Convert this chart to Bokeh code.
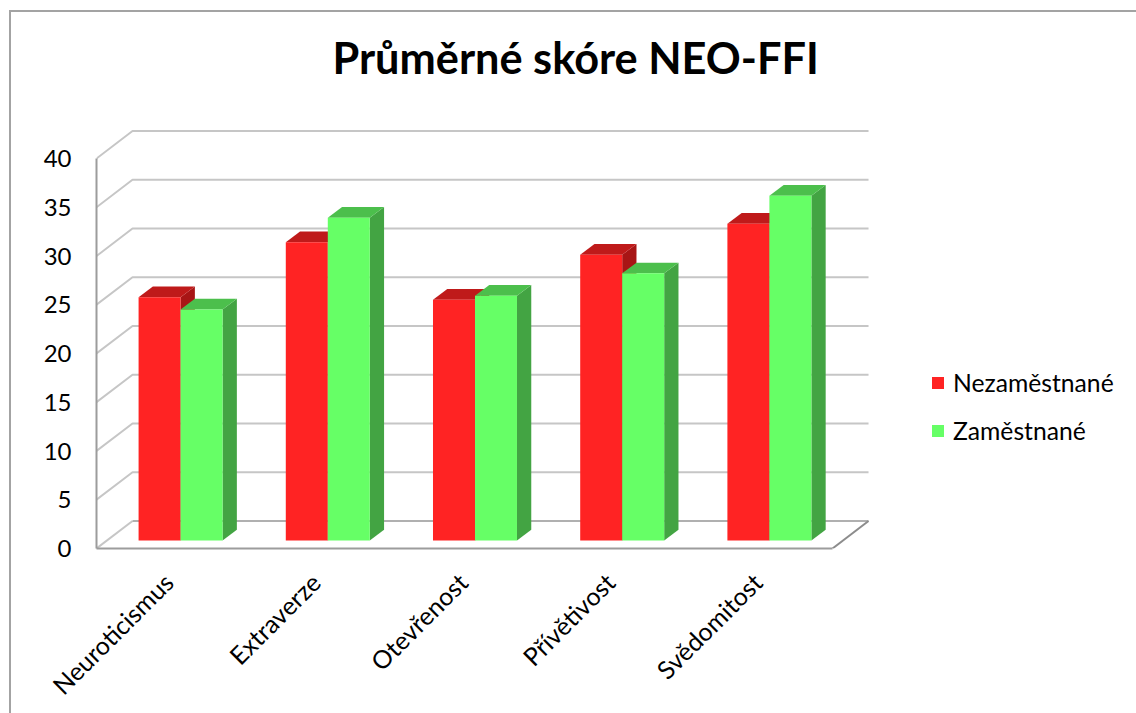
from bokeh.plotting import figure
from bokeh.embed import file_html
from bokeh.resources import INLINE
from bokeh.models import (FixedTicker, InlineStyleSheet, Legend, LegendItem, Range1d, Title)

title_text = "Průměrné skóre NEO-FFI"
categories = ["Neuroticismus", "Extraverze", "Otevřenost", "Přívětivost", "Svědomitost"]
nezamestnane = [24.95, 30.6, 24.7, 29.3, 32.5]
zamestnane = [23.7, 33.1, 25.1, 27.4, 35.35]
y_ticks = [0, 5, 10, 15, 20, 25, 30, 35, 40]
series_names = ["Nezaměstnané", "Zaměstnané"]

FONT = "Lato"
FLOOR_DX, FLOOR_DY = 0.2446, 2.82     # depth of the whole 3D floor
BAR_DX, BAR_DY = 0.097, 1.10          # depth of one bar
PLANE_DX, PLANE_DY = 0.0712, 0.82     # where bar fronts stand on the floor
BAR_W = 0.2853
n = len(categories)

# chart-area border: open to the right and bottom like the cropped original
frame_css = InlineStyleSheet(css=""":host::after {
  content: ""; position: absolute; left: 9px; top: 10px; right: 0; bottom: 0;
  border-left: 2px solid #a3a3a3; border-top: 2px solid #a3a3a3; pointer-events: none;
}""")

p = figure(width=1136, height=713, output_backend="svg", toolbar_location=None,
           x_range=Range1d(0, 7.065), y_range=Range1d(0, 47.59),
           min_border_left=96, min_border_right=0, min_border_top=84, min_border_bottom=165,
           outline_line_color=None, background_fill_color="white", border_fill_color="white",
           stylesheets=[frame_css])
p.grid.visible = False

# back-wall gridlines and side-wall diagonals
gx = [[0, FLOOR_DX, n + FLOOR_DX] for t in y_ticks if t > 0]
gy = [[t, t + FLOOR_DY, t + FLOOR_DY] for t in y_ticks if t > 0]
p.multi_line(gx, gy, line_color="#c6c6c6", line_width=2)
# floor
p.line([0, FLOOR_DX], [0, FLOOR_DY], line_color="#c6c6c6", line_width=2)
p.line([FLOOR_DX, n + FLOOR_DX], [FLOOR_DY, FLOOR_DY], line_color="#b0b0b0", line_width=2)
p.line([n, n + FLOOR_DX], [0, FLOOR_DY], line_color="#8c8c8c", line_width=2)


def draw_series(values, shift, front, top, side):
    left = [i + 0.5 + PLANE_DX + shift for i in range(n)]
    right = [x + BAR_W for x in left]
    y0 = PLANE_DY
    y1 = [v + PLANE_DY for v in values]
    p.patches([[r, r + BAR_DX, r + BAR_DX, r] for r in right],
              [[y0, y0 + BAR_DY, t + BAR_DY, t] for t in y1],
              fill_color=side, line_color=None)
    p.patches([[l, l + BAR_DX, r + BAR_DX, r] for l, r in zip(left, right)],
              [[t, t + BAR_DY, t + BAR_DY, t] for t in y1],
              fill_color=top, line_color=None)
    return p.quad(left=left, right=right, bottom=y0, top=y1, fill_color=front, line_color=None)


r1 = draw_series(nezamestnane, -BAR_W, "#ff2323", "#bf1a1a", "#a81515")
r2 = draw_series(zamestnane, 0, "#66ff66", "#4cbf4c", "#43a443")

# axes
yax = p.yaxis[0]
yax.ticker = FixedTicker(ticks=y_ticks)
yax.bounds = (0, 40)
yax.axis_line_color = "#9c9c9c"
yax.axis_line_width = 2
yax.major_tick_line_color = None
yax.minor_tick_line_color = None
yax.major_label_standoff = 19
yax.major_label_text_font = FONT
yax.major_label_text_font_size = "24px"
yax.major_label_text_color = "black"

LABEL_NUDGE = 0.012  # rotated labels sit slightly left of each category centre
xax = p.xaxis[0]
xax.ticker = FixedTicker(ticks=[i + 0.5 - LABEL_NUDGE for i in range(n)])
xax.major_label_overrides = {i + 0.5 - LABEL_NUDGE: c for i, c in enumerate(categories)}
xax.bounds = (0, n)
xax.axis_line_color = "#9c9c9c"
xax.axis_line_width = 2
xax.major_tick_line_color = None
xax.minor_tick_line_color = None
xax.major_label_orientation = 0.785398
xax.major_label_standoff = 23
xax.major_label_text_font = FONT
xax.major_label_text_font_size = "25px"
xax.major_label_text_color = "black"

# title
p.add_layout(Title(text=title_text, align="left", offset=236, standoff=3, text_font=FONT, text_font_size="43.3px",
                   text_font_style="bold", text_color="black"), "above")

# legend
legend = Legend(items=[LegendItem(label=series_names[0], renderers=[r1]),
                       LegendItem(label=series_names[1], renderers=[r2])],
                location=(834, 103), orientation="vertical", padding=0, margin=0, spacing=19,
                glyph_width=15, glyph_height=15, label_standoff=8,
                label_text_font=FONT, label_text_font_size="24.7px", label_text_color="black",
                background_fill_alpha=0, border_line_color=None)
p.add_layout(legend, "center")

open("out.html", "w").write(file_html(p, INLINE))
